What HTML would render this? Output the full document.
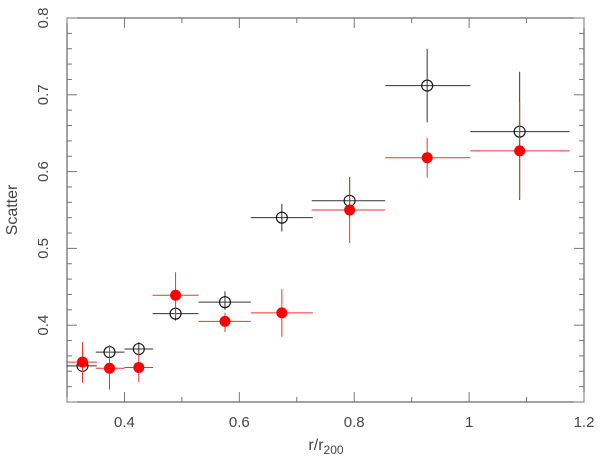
<!DOCTYPE html>
<html><head><meta charset="utf-8"><style>
html,body{margin:0;padding:0;background:#fff;}
svg{display:block;font-family:"Liberation Sans",sans-serif;}
</style></head><body>
<svg id="chart" width="600" height="459" viewBox="0 0 600 459" xmlns="http://www.w3.org/2000/svg">
<rect x="67" y="18" width="517" height="384" fill="none" stroke="#444" stroke-width="1"/>
<g id="ticks"></g>
<g id="labels" fill="#444" font-size="15"></g>
<text x="326" y="450" text-anchor="middle" font-size="16" fill="#444">r/r<tspan font-size="12" dy="4">200</tspan></text>
<text x="17" y="210" text-anchor="middle" font-size="16" fill="#444" transform="rotate(-90 17 210)">Scatter</text>
<g id="series-open"></g>
<g id="series-red"></g>
</svg>
<script>
const xTicks=[0.4,0.6,0.8,1.0,1.2];
const xTickLabels=["0.4","0.6","0.8","1","1.2"];
const yTicks=[0.4,0.5,0.6,0.7,0.8];
const yTickLabels=["0.4","0.5","0.6","0.7","0.8"];
const openX=[0.327,0.374,0.425,0.489,0.575,0.674,0.792,0.927,1.088];
const openXLo=[0.30,0.350,0.400,0.449,0.529,0.620,0.726,0.854,1.002];
const openXHi=[0.352,0.400,0.450,0.529,0.620,0.728,0.854,1.002,1.175];
const openY=[0.347,0.365,0.369,0.415,0.430,0.540,0.562,0.712,0.652];
const openYLo=[0.340,0.356,0.360,0.406,0.420,0.522,0.540,0.664,0.563];
const openYHi=[0.354,0.374,0.378,0.424,0.444,0.558,0.593,0.760,0.730];
const redX=[0.327,0.374,0.425,0.489,0.575,0.674,0.792,0.927,1.088];
const redY=[0.352,0.344,0.345,0.439,0.405,0.416,0.550,0.618,0.627];
const redYLo=[0.325,0.316,0.326,0.410,0.391,0.385,0.507,0.592,0.565];
const redYHi=[0.378,0.374,0.364,0.469,0.416,0.447,0.593,0.644,0.690];
const ns="http://www.w3.org/2000/svg";
const X0=67,X1=584,Y0=402,Y1=18,xmin=0.3,xmax=1.2,ymin=0.3,ymax=0.8;
function sx(v){return X0+(v-xmin)/(xmax-xmin)*(X1-X0);}
function sy(v){return Y0-(v-ymin)/(ymax-ymin)*(Y0-Y1);}
function mk(tag,attrs,parent){const e=document.createElementNS(ns,tag);for(const k in attrs)e.setAttribute(k,attrs[k]);parent.appendChild(e);return e;}
const tg=document.getElementById('ticks');
for(let i=0;i<=9;i++){const v=xmin+i*0.1;const len=(i%2===1)?10:5;const x=sx(v);
 let t=mk('line',{x1:x,x2:x,y1:Y0,y2:Y0-len,stroke:'#777'},tg);
 
 
 let t2=mk('line',{x1:x,x2:x,y1:Y1,y2:Y1+len,stroke:'#777'},tg);
 
 }
for(let i=0;i<=25;i++){const v=ymin+i*0.02;const len=(i%5===0)?10:5;const y=sy(v);
 let t=mk('line',{x1:X0,x2:X0+len,y1:y,y2:y,stroke:'#777'},tg);
 
 
 let t2=mk('line',{x1:X1,x2:X1-len,y1:y,y2:y,stroke:'#777'},tg);
 
 }
const lg=document.getElementById('labels');
xTicks.forEach((v,i)=>{const t=mk('text',{x:sx(v),y:427,'text-anchor':'middle'},lg);t.textContent=xTickLabels[i];
 
 });
yTicks.forEach((v,i)=>{const y=sy(v);const t=mk('text',{x:48,y:y,'text-anchor':'middle',transform:'rotate(-90 48 '+y+')'},lg);t.textContent=yTickLabels[i];
 
 });
const og=document.getElementById('series-open');
openX.forEach((v,i)=>{const x=sx(v),y=sy(openY[i]);
 let h=mk('line',{x1:sx(openXLo[i]),x2:sx(openXHi[i]),y1:y,y2:y,stroke:'#333'},og);
 
 
 let e=mk('line',{x1:x,x2:x,y1:sy(openYLo[i]),y2:sy(openYHi[i]),stroke:'#333'},og);
 
 
 let c=mk('circle',{cx:x,cy:y,r:5.5,fill:'none',stroke:'#111','stroke-width':1.1},og);
 
 });
const rg=document.getElementById('series-red');
redX.forEach((v,i)=>{const x=sx(v),y=sy(redY[i]);
 let h=mk('line',{x1:sx(openXLo[i]),x2:sx(openXHi[i]),y1:y,y2:y,stroke:'#e33'},rg);
 
 
 let e=mk('line',{x1:x,x2:x,y1:sy(redYLo[i]),y2:sy(redYHi[i]),stroke:'#e33'},rg);
 
 
 let c=mk('circle',{cx:x,cy:y,r:5.5,fill:'#f00'},rg);
 
 });
</script>
</body></html>
